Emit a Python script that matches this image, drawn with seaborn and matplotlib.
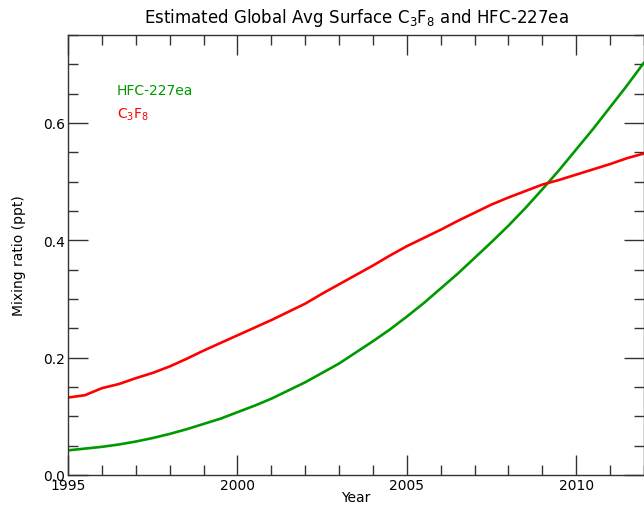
import numpy as np
import pandas as pd
import seaborn as sns
import matplotlib.pyplot as plt
from matplotlib.ticker import MultipleLocator

# half-year readings
years = [1995.0, 1995.5, 1996.0, 1996.5, 1997.0, 1997.5, 1998.0, 1998.5,
         1999.0, 1999.5, 2000.0, 2000.5, 2001.0, 2001.5, 2002.0, 2002.5,
         2003.0, 2003.5, 2004.0, 2004.5, 2005.0, 2005.5, 2006.0, 2006.5,
         2007.0, 2007.5, 2008.0, 2008.5, 2009.0, 2009.5, 2010.0, 2010.5,
         2011.0, 2011.5, 2012.0]
hfc227ea = [0.042, 0.045, 0.048, 0.052, 0.057, 0.063, 0.070, 0.078,
            0.087, 0.096, 0.107, 0.118, 0.130, 0.144, 0.158, 0.174,
            0.190, 0.209, 0.228, 0.248, 0.270, 0.293, 0.318, 0.343,
            0.370, 0.397, 0.425, 0.455, 0.487, 0.520, 0.555, 0.590,
            0.627, 0.664, 0.703]
c3f8 = [0.132, 0.136, 0.148, 0.155, 0.165, 0.174, 0.185, 0.198,
        0.212, 0.225, 0.238, 0.251, 0.264, 0.278, 0.292, 0.309,
        0.325, 0.341, 0.357, 0.374, 0.390, 0.404, 0.418, 0.433,
        0.447, 0.461, 0.473, 0.484, 0.495, 0.503, 0.512, 0.521,
        0.530, 0.540, 0.548]

green = '#009900'
red = '#ff0000'

sns.set_style('ticks')
plt.rcParams['font.family'] = ['DejaVu Sans']
plt.rcParams['text.color'] = 'black'
plt.rcParams['axes.labelcolor'] = 'black'
plt.rcParams['xtick.labelcolor'] = 'black'
plt.rcParams['ytick.labelcolor'] = 'black'

df = pd.DataFrame({'Year': years * 2,
                   'ppt': hfc227ea + c3f8,
                   'gas': ['HFC-227ea'] * len(years) + ['C3F8'] * len(years)})

fig = plt.figure(figsize=(6.44, 5.06), dpi=100)
ax = fig.add_axes([0.1056, 0.0593, 0.8944, 0.8696])

sns.lineplot(data=df, x='Year', y='ppt', hue='gas', ax=ax,
             palette={'HFC-227ea': green, 'C3F8': red}, linewidth=1.9, legend=False)

ax.set_xlim(1995, 2012)
ax.set_ylim(0, 0.75)
ax.xaxis.set_major_locator(MultipleLocator(5))
ax.xaxis.set_minor_locator(MultipleLocator(1))
ax.yaxis.set_major_locator(MultipleLocator(0.2))
ax.yaxis.set_minor_locator(MultipleLocator(0.05))
ax.yaxis.set_major_formatter(plt.FormatStrFormatter('%.1f'))
ax.tick_params(which='both', direction='in', top=True, right=True, color='#333333',
               labelsize=10, width=1)
ax.tick_params(which='major', length=14.5, pad=2)
ax.tick_params(which='minor', length=7.2)
for s in ax.spines.values():
    s.set_color('#333333')
    s.set_linewidth(1)

ax.set_xlabel('Year', fontsize=10, labelpad=-1)
ax.set_ylabel('Mixing ratio (ppt)', fontsize=10, labelpad=12.5)
ax.set_title('Estimated Global Avg Surface C$_3$F$_8$ and HFC-227ea', fontsize=12, pad=9)

ax.text(0.085, 0.875, 'HFC-227ea', transform=ax.transAxes, color=green,
        fontsize=10, va='center')
ax.text(0.085, 0.82, 'C$_3$F$_8$', transform=ax.transAxes, color=red,
        fontsize=10, va='center')

fig.savefig('out.png', dpi=100)
